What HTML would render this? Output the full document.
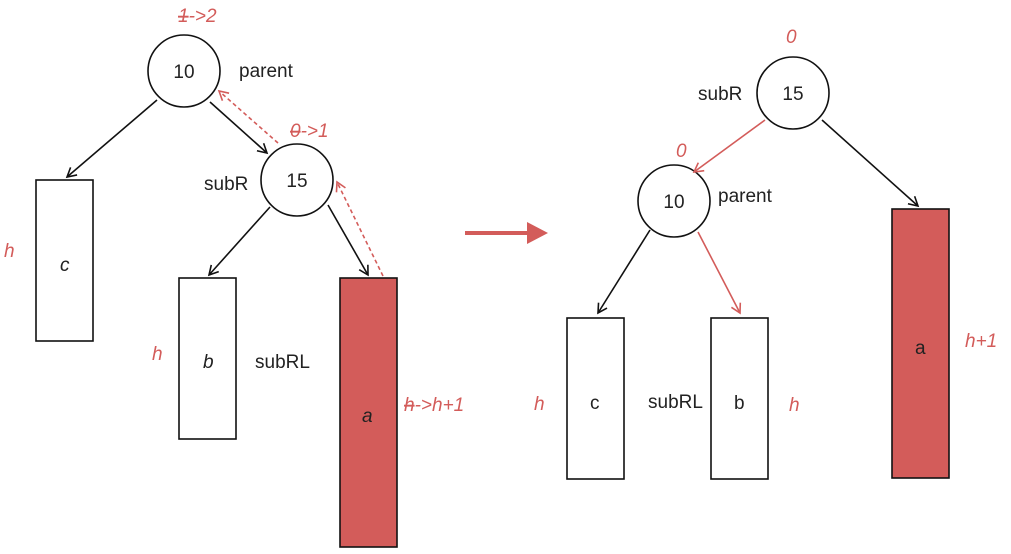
<!DOCTYPE html>
<html><head><style>html,body{margin:0;padding:0;background:#fff}svg{display:block}text{font-family:"Liberation Sans","DejaVu Sans",sans-serif;font-size:19px;fill:#222}.r{fill:#d35c5a;font-style:italic}.i{font-style:italic}</style></head><body>
<svg width="1011" height="554" viewBox="0 0 1011 554">
<defs>
<marker id="ab" markerWidth="12" markerHeight="12" refX="10" refY="6" orient="auto" markerUnits="userSpaceOnUse"><path d="M1,1 L10,6 L1,11" fill="none" stroke="#111" stroke-width="1.6"/></marker>
<marker id="ar" markerWidth="12" markerHeight="12" refX="10" refY="6" orient="auto" markerUnits="userSpaceOnUse"><path d="M1,1 L10,6 L1,11" fill="none" stroke="#d35c5a" stroke-width="1.6"/></marker>
</defs>
<g stroke="#111" stroke-width="1.6" fill="none">
<circle cx="184" cy="71" r="36"/><circle cx="297" cy="180" r="36"/>
<rect x="36" y="180" width="57" height="161"/><rect x="179" y="278" width="57" height="161"/>
<rect x="340" y="278" width="57" height="269" fill="#d35c5a"/>
<line x1="157" y1="100" x2="67" y2="177" marker-end="url(#ab)"/>
<line x1="210" y1="102" x2="267" y2="153" marker-end="url(#ab)"/>
<line x1="270" y1="207" x2="209" y2="275" marker-end="url(#ab)"/>
<line x1="328" y1="205" x2="368" y2="275" marker-end="url(#ab)"/>
<circle cx="793" cy="93" r="36"/><circle cx="674" cy="201" r="36"/>
<rect x="567" y="318" width="57" height="161"/><rect x="711" y="318" width="57" height="161"/>
<rect x="892" y="209" width="57" height="269" fill="#d35c5a"/>
<line x1="822" y1="120" x2="918" y2="206" marker-end="url(#ab)"/>
<line x1="650" y1="230" x2="598" y2="313" marker-end="url(#ab)"/>
</g>
<g stroke="#d35c5a" stroke-width="1.6" fill="none">
<line x1="278" y1="143" x2="219" y2="91" stroke-dasharray="4,3" marker-end="url(#ar)"/>
<line x1="383" y1="276" x2="337" y2="182" stroke-dasharray="4,3" marker-end="url(#ar)"/>
<line x1="765" y1="120" x2="694" y2="172" marker-end="url(#ar)"/>
<line x1="698" y1="232" x2="740" y2="313" marker-end="url(#ar)"/>
<line x1="465" y1="233" x2="530" y2="233" stroke-width="4"/>
</g>
<path d="M527,222 L548,233 L527,244 Z" fill="#d35c5a"/>
<text x="184" y="78" text-anchor="middle">10</text>
<text x="297" y="187" text-anchor="middle">15</text>
<text x="239" y="77">parent</text>
<text x="204" y="190">subR</text>
<text class="r" x="178" y="22"><tspan text-decoration="line-through">1</tspan>-&gt;2</text>
<text class="r" x="290" y="137"><tspan text-decoration="line-through">0</tspan>-&gt;1</text>
<text class="r" x="4" y="257">h</text>
<text class="i" x="60" y="271">c</text>
<text class="r" x="152" y="360">h</text>
<text class="i" x="203" y="368">b</text>
<text x="255" y="368">subRL</text>
<text class="i" x="362" y="422">a</text>
<text class="r" x="404" y="411"><tspan text-decoration="line-through">h</tspan>-&gt;h+1</text>
<text x="793" y="100" text-anchor="middle">15</text>
<text x="674" y="208" text-anchor="middle">10</text>
<text class="r" x="786" y="43">0</text>
<text class="r" x="676" y="157">0</text>
<text x="698" y="100">subR</text>
<text x="718" y="202">parent</text>
<text x="915" y="354">a</text>
<text class="r" x="965" y="347">h+1</text>
<text class="r" x="534" y="410">h</text>
<text x="590" y="409">c</text>
<text x="648" y="408">subRL</text>
<text x="734" y="409">b</text>
<text class="r" x="789" y="411">h</text>
</svg>
</body></html>
